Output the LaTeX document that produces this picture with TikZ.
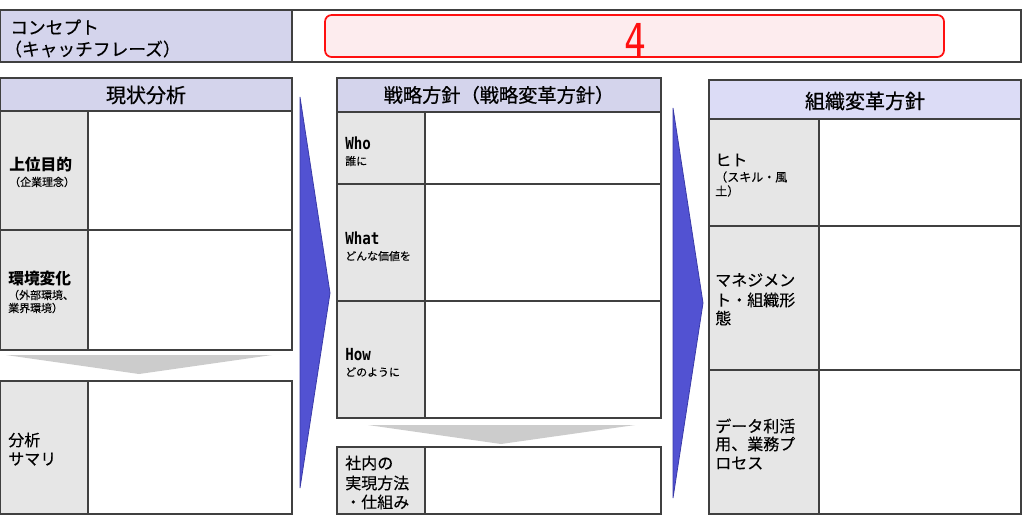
\documentclass[tikz,border=0pt]{standalone}
\usepackage{fontspec}
\setmainfont{Noto Sans CJK JP}
\newfontfamily\medfont{Noto Sans CJK JP}[FakeBold=0.6]
\newfontfamily\regfont{Noto Sans CJK JP}[FakeBold=0.25]
\newfontfamily\condfont{DejaVu Sans Mono}[FakeStretch=0.85]
\newfontfamily\numfont{DejaVu Sans Mono}[FakeStretch=0.8]
\definecolor{bordc}{HTML}{404040}
\definecolor{hdrc}{HTML}{D4D4EC}
\definecolor{hdrr}{HTML}{DCDCF6}
\definecolor{labc}{HTML}{E6E6E6}
\definecolor{bluec}{HTML}{5252D2}
\definecolor{blueb}{HTML}{3A3AA8}
\definecolor{grayarr}{HTML}{CCCCCC}
\definecolor{redc}{HTML}{FF1010}
\definecolor{redf}{HTML}{FDECEE}
\newcommand{\fs}[1]{\fontsize{#1}{#1}\selectfont}
\begin{document}
\begin{tikzpicture}[x=0.75pt,y=-0.75pt,
  frame/.style={draw=bordc,line width=1.1pt},
  hdr/.style={frame,fill=hdrc},
  hdrR/.style={frame,fill=hdrr},
  lab/.style={frame,fill=labc},
  cell/.style={frame,fill=white},
  txt/.style={anchor=west,inner sep=0pt,text=black},
  big/.style={txt,font=\regfont\fs{12}},
  bigb/.style={txt,font=\fs{11.8}\bfseries},
  small/.style={txt,font=\regfont\fs{8.2}},
  smallr/.style={txt,font=\regfont\fs{9}},
  eng/.style={txt,font=\condfont\bfseries\fs{12.5}},
  head/.style={inner sep=0pt,font=\medfont\fs{15}},
  bluearrow/.style={fill=bluec,draw=blueb,line width=0.6pt},
  grayarrow/.style={fill=grayarr,draw=none}]
\useasboundingbox (0,0) rectangle (1024,519);
\fill[white] (0,0) rectangle (1024,519);
% concept bar
\draw[hdr] (0,10) rectangle (292,62);
\draw[cell] (292,10) rectangle (1021,62);
\draw[draw=redc,fill=redf,line width=1.3pt,rounded corners=5pt] (325,15) rectangle (944,57);
\node[txt,font=\regfont\fs{13.3}] (c1) at (10,27) {コンセプト};
\node[txt,font=\regfont\fs{13.3}] (c2) at (4,49) {（キャッチフレーズ）};
\node[inner sep=0pt,text=redc,font=\numfont\fs{34}] (num) at (635,40) {4};
% left column
\draw[hdr] (0,78) rectangle (292,111);
\node[head] (h1) at (146,95) {現状分析};
\draw[lab] (0,111) rectangle (88,230);
\draw[cell] (88,111) rectangle (292,230);
\draw[lab] (0,230) rectangle (88,350);
\draw[cell] (88,230) rectangle (292,350);
\draw[lab] (0,381) rectangle (88,514);
\draw[cell] (88,381) rectangle (292,514);
\fill[grayarrow] (6,355) -- (272,355) -- (139,374) -- cycle;
\node[bigb] (l1a) at (9,165) {上位目的};
\node[small] (l1b) at (9,182) {（企業理念）};
\node[bigb] (l2a) at (8,279) {環境変化};
\node[small] (l2b) at (8,295) {（外部環境、};
\node[small] (l2c) at (8,308) {業界環境）};
\node[big] (l3a) at (8,440) {分析};
\node[big] (l3b) at (8,459) {サマリ};
% middle column
\draw[hdr] (337,78) rectangle (661,112);
\node[head,font=\medfont\fs{14.4}] (h2) at (499,95) {戦略方針（戦略変革方針）};
\draw[lab] (337,112) rectangle (425,184);
\draw[cell] (425,112) rectangle (661,184);
\draw[lab] (337,184) rectangle (425,301);
\draw[cell] (425,184) rectangle (661,301);
\draw[lab] (337,301) rectangle (425,418);
\draw[cell] (425,301) rectangle (661,418);
\draw[lab] (337,447) rectangle (425,514);
\draw[cell] (425,447) rectangle (661,514);
\fill[grayarrow] (368,425) -- (635,425) -- (501,444) -- cycle;
\node[eng] (m1a) at (345,143) {Who};
\node[small] (m1b) at (345,161) {誰に};
\node[eng] (m2a) at (345,238) {What};
\node[small] (m2b) at (345,256) {どんな価値を};
\node[eng] (m3a) at (345,355) {How};
\node[small] (m3b) at (345,372) {どのように};
\node[big] (m4a) at (345,463) {社内の};
\node[big] (m4b) at (345,483) {実現方法};
\node[big] (m4c) at (345,502) {・仕組み};
% right column
\draw[hdrR] (709,80) rectangle (1021,119);
\node[head] (h3) at (865,101) {組織変革方針};
\draw[lab] (709,119) rectangle (819,226);
\draw[cell] (819,119) rectangle (1021,226);
\draw[lab] (709,226) rectangle (819,370);
\draw[cell] (819,226) rectangle (1021,370);
\draw[lab] (709,370) rectangle (819,514);
\draw[cell] (819,370) rectangle (1021,514);
\node[big] (r1a) at (715,160) {ヒト};
\node[smallr] (r1b) at (715,177) {（スキル・風};
\node[smallr] (r1c) at (715,191) {土）};
\node[big] (r2a) at (715,280) {マネジメン};
\node[big] (r2b) at (715,300) {ト・組織形};
\node[big] (r2c) at (715,318) {態};
\node[big] (r3a) at (715,426) {データ利活};
\node[big] (r3b) at (715,444) {用、業務プ};
\node[big] (r3c) at (715,463) {ロセス};
% blue arrows
\draw[bluearrow] (300,97) -- (330,293) -- (300,488) -- cycle;
\draw[bluearrow] (673,108) -- (703,303) -- (673,498) -- cycle;
\end{tikzpicture}
\end{document}
